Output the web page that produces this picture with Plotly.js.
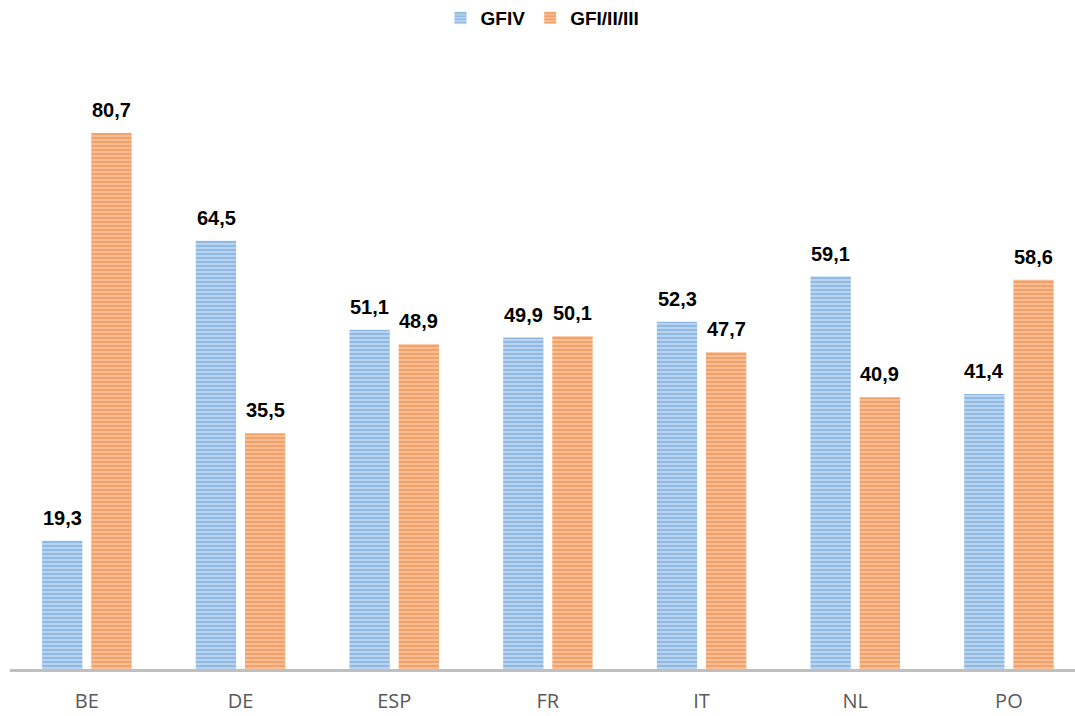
<!DOCTYPE html>
<html>
<head>
<meta charset="utf-8">
<script src="https://cdn.plot.ly/plotly-3.0.1.min.js"></script>
<style>html,body{margin:0;padding:0;background:#fff;}#chart{width:1075px;height:716px;}</style>
</head>
<body>
<div id="chart"></div>
<script>
const categories = ["BE", "DE", "ESP", "FR", "IT", "NL", "PO"];
const gfiv = [19.3, 64.5, 51.1, 49.9, 52.3, 59.1, 41.4];
const gfi123 = [80.7, 35.5, 48.9, 50.1, 47.7, 40.9, 58.6];
const seriesNames = ["GFIV", "GFI/II/III"];

const labelFont = { family: "Liberation Sans, Arial, sans-serif", size: 20, color: "#000", weight: "bold" };

function mk(name, y, bg, fg) {
  return {
    type: "bar", name: name, x: categories, y: y,
    marker: { color: bg, line: { width: 0 },
      pattern: { shape: "-", fgcolor: fg, size: 4, solidity: 0.6, fillmode: "overlay" } }
  };
}
const data = [
  mk(seriesNames[0], gfiv, "#c3d9f0", "#5b9bd5"),
  mk(seriesNames[1], gfi123, "#f8c4a0", "#ed7d31")
];
const fmt = v => v.toFixed(1).replace(".", ",");
const annotations = [];
[[gfiv, -24.5], [gfi123, 24.5]].forEach(([vals, dx]) => {
  vals.forEach((v, i) => annotations.push({
    x: categories[i], y: v, xref: "x", yref: "y", text: fmt(v), showarrow: false,
    xanchor: "center", yanchor: "bottom", xshift: dx, yshift: 10, font: labelFont
  }));
});
const layout = {
  width: 1075, height: 716,
  margin: { l: 10, r: 0, t: 60, b: 47, autoexpand: false },
  paper_bgcolor: "#fff", plot_bgcolor: "#fff",
  barmode: "group", bargap: 0.36, bargroupgap: 0.18,
  showlegend: true,
  legend: { orientation: "h", x: 0.5, xanchor: "center", y: 1.069, yanchor: "middle",
    font: { family: "Liberation Sans, Arial, sans-serif", size: 19, color: "#000", weight: "bold" },
    traceorder: "normal" },
  annotations: annotations,
  xaxis: { type: "category", range: [-0.5, 6.43], showgrid: false, zeroline: false,
    showline: true, linecolor: "#bfbfbf", linewidth: 3, ticks: "outside", ticklen: 12, tickcolor: "rgba(0,0,0,0)",
    tickfont: { family: "Open Sans, sans-serif", size: 20, color: "#595959" } },
  yaxis: { range: [0, 91.7], visible: false, showgrid: false, zeroline: false }
};
Plotly.newPlot("chart", data, layout, { displayModeBar: false, staticPlot: true });
</script>
</body>
</html>
